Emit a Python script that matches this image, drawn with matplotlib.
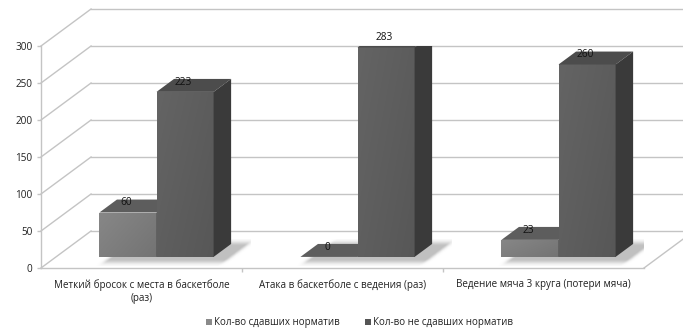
import numpy as np
import matplotlib.pyplot as plt
from matplotlib.patches import Polygon, Patch

categories = ["Меткий бросок с места в баскетболе\n(раз)",
              "Атака в баскетболе с ведения (раз)",
              "Ведение мяча 3 круга (потери мяча)"]
passed = [60, 0, 23]
failed = [223, 283, 260]
series_names = ["Кол-во сдавших норматив", "Кол-во не сдавших норматив"]
yticks = [0, 50, 100, 150, 200, 250, 300]

plt.rcParams['font.family'] = ['Open Sans', 'DejaVu Sans']

# fake 3d: oblique offset of the back wall in data units
DEPTH_X, DEPTH_Y = 0.249, 50
BAR_W = 0.284
FRONT = 0.30   # where the bar front sits along the depth
THICK = 0.35   # bar depth as a share of the full depth
PX_X, PX_Y = 201.0, 0.74   # pixels per x unit / per y unit

GRID = "#c4c4c4"
styles = [
    dict(front=("#878787", "#737373"), top="#5d5d5d", side="#4b4b4b", key="#8a8a8a"),
    dict(front=("#646464", "#575757"), top="#4c4c4c", side="#3a3a3a", key="#555555"),
]

fig = plt.figure(figsize=(6.83, 3.34), dpi=100)
ax = fig.add_axes([41 / 683, 66 / 334, 603 / 683, 222 / 334])
ax.set_xlim(0, 3)
ax.set_ylim(0, 300)
for s in ax.spines.values():
    s.set_visible(False)

# walls: left wall diagonals, back wall horizontals, floor edges
for v in yticks:
    ax.plot([0, DEPTH_X], [v, v + DEPTH_Y], color=GRID, lw=1, clip_on=False, zorder=1)
    ax.plot([DEPTH_X, 3 + DEPTH_X], [v + DEPTH_Y, v + DEPTH_Y], color=GRID, lw=1,
            clip_on=False, zorder=1)
ax.plot([0, 3], [0, 0], color=GRID, lw=1, clip_on=False, zorder=1)
ax.plot([3, 3 + DEPTH_X], [0, DEPTH_Y], color=GRID, lw=1, clip_on=False, zorder=1)
ax.plot([0, 0], [0, 300], color=GRID, lw=1, clip_on=False, zorder=1)

ax.set_yticks(yticks)
ax.tick_params(axis='y', length=3, width=1, color=GRID, labelsize=7.2,
               labelcolor="#222222", pad=3)
ax.set_xticks([1, 2], minor=True)
ax.tick_params(axis='x', which='minor', length=3, color=GRID, width=1)
ax.tick_params(axis='x', which='major', length=0)
ax.set_xticks([0.5, 1.5, 2.5])
ax.set_xticklabels([])
# category names under the floor, centred line by line
for i, name in enumerate(categories):
    ax.annotate(name, xy=(i + 0.5, 0), xytext=(0, -8), textcoords='offset points',
                ha='center', va='top', multialignment='center', fontsize=7.1,
                color="#222222", annotation_clip=False)

dx, dy = DEPTH_X * THICK, DEPTH_Y * THICK
fx, fz = DEPTH_X * FRONT, DEPTH_Y * FRONT


def shadow(x, w):
    # soft floor shadow around the bar footprint
    x0, x1 = x - 0.08, x + w + dx + 0.10
    y0, y1 = fz - 12, fz + dy + 6
    X, Y = np.meshgrid(np.linspace(x0, x1, 200), np.linspace(y0, y1, 60))
    t = Y / DEPTH_Y
    ux = X - t * DEPTH_X
    t = t + 0.06
    ox = np.maximum(np.maximum(x - ux, ux - (x + w)), 0) * PX_X
    ot = np.maximum(np.maximum(FRONT - t, t - (FRONT + THICK)), 0) * DEPTH_Y * PX_Y
    d2 = ox ** 2 + ot ** 2
    alpha = 0.45 * np.exp(-d2 / (2 * 3.0 ** 2))
    img = np.zeros(X.shape + (4,))
    img[..., :3] = 0.45
    img[..., 3] = alpha
    ax.imshow(img, extent=(x0, x1, y0, y1), origin='lower', aspect='auto',
              zorder=2, interpolation='bilinear')


def bar(x, h, st):
    z = fz
    front = Polygon([(x, z), (x + w, z), (x + w, z + h), (x, z + h)], closed=True,
                    facecolor="none", edgecolor="none", zorder=4)
    ax.add_patch(front)
    if h > 0:
        grad = np.linspace(0, 1, 64)[None, :] * 0.6 + np.linspace(0, 1, 64)[:, None] * 0.4
        c0 = np.array([int(st["front"][0][i:i + 2], 16) for i in (1, 3, 5)]) / 255
        c1 = np.array([int(st["front"][1][i:i + 2], 16) for i in (1, 3, 5)]) / 255
        img = c0[None, None, :] * (1 - grad[..., None]) + c1[None, None, :] * grad[..., None]
        im = ax.imshow(img, extent=(x, x + w, z, z + h), origin='upper', aspect='auto',
                       zorder=4, interpolation='bilinear')
        im.set_clip_path(front)
    top = [(x, z + h), (x + w, z + h), (x + w + dx, z + h + dy), (x + dx, z + h + dy)]
    ax.add_patch(Polygon(top, closed=True, facecolor=st["top"], edgecolor="none", zorder=4))
    side = [(x + w, z), (x + w + dx, z + dy), (x + w + dx, z + h + dy), (x + w, z + h)]
    ax.add_patch(Polygon(side, closed=True, facecolor=st["side"], edgecolor="none", zorder=4))
    ax.text(x + w / 2 - 0.01, z + h + 13, f"{h}", ha='center', va='center', fontsize=7.3,
            color="#111111", zorder=6)


w = BAR_W
for i in range(len(categories)):
    left = i + 0.5 - BAR_W + fx
    shadow(left, 2 * BAR_W)
for i in range(len(categories)):
    left = i + 0.5 - BAR_W + fx
    bar(left, passed[i], styles[0])
    bar(left + BAR_W, failed[i], styles[1])

ax.set_xlim(0, 3)
ax.set_ylim(0, 300)

handles = [Patch(facecolor=st["key"], edgecolor="none") for st in styles]
fig.legend(handles, series_names, loc='center', bbox_to_anchor=(0.526, 0.033), ncol=2,
           frameon=False, fontsize=7, handlelength=0.6, handleheight=0.6,
           handletextpad=0.2, columnspacing=2.6, labelcolor="#222222")

fig.savefig("out.png", dpi=100)
